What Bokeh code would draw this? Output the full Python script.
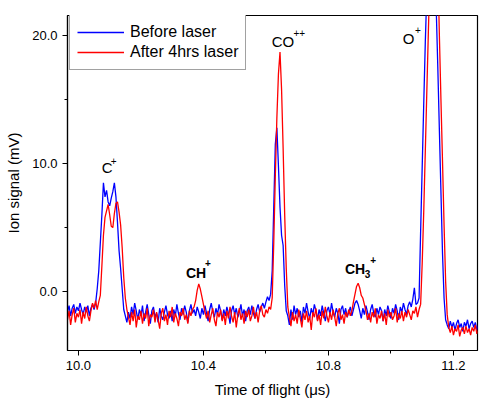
import numpy as np
from bokeh.plotting import figure
from bokeh.models import (FixedTicker, PrintfTickFormatter, Legend, LegendItem,
                          Range1d, ColumnDataSource)
from bokeh.core.properties import value
from bokeh.embed import file_html
from bokeh.resources import INLINE

# Time-of-flight sampling (microseconds)
t_start = 9.965
t_step = 0.005

# Ion signal (mV), one sample per time step
before_laser = [
    -1.6, -1.1, -1.9, -1.3, -1.0, -1.7, -1.2, -1.5, -0.9, -1.4,
    -1.8, -1.2, -1.6, -1.1, -1.9, -1.3, -1.0, -1.4, -0.9, 0.2,
    1.6, 3.8, 6.0, 8.5, 7.4, 7.9, 7.0, 6.7, 7.3, 7.8,
    8.5, 7.4, 5.4, 3.2, 1.8, 0.2, -1.4, -1.9, -2.4, -1.6,
    -2.1, -1.2, -1.8, -0.9, -1.5, -2.2, -1.4, -1.9, -1.1, -2.3,
    -1.6, -1.0, -1.8, -2.5, -1.5, -1.2, -2.0, -1.7, -2.4, -1.3,
    -1.9, -2.2, -1.6, -1.1, -1.8, -2.1, -1.5, -2.3, -1.4, -1.9,
    -1.0, -1.7, -2.2, -1.3, -1.8, -1.1, -1.6, -2.4, -1.5, -1.0,
    -1.7, -1.4, -1.9, -1.2, -1.6, -2.1, -1.3, -1.8, -1.1, -1.7,
    -2.3, -1.4, -0.9, -1.6, -2.0, -1.3, -1.8, -1.0, -1.5, -2.2,
    -1.4, -1.9, -1.2, -1.7, -2.5, -1.5, -1.1, -1.8, -1.3, -2.0,
    -1.6, -1.0, -1.9, -1.4, -2.3, -1.5, -1.2, -1.8, -1.1, -1.7,
    -2.1, -1.4, -1.0, -1.6, -1.2, -0.9, -1.3, -0.8, -0.4, -0.7,
    -0.2, 1.6, 6.6, 11.5, 12.8, 9.8, 6.6, 4.4, 3.6, 0.5,
    -1.5, -1.9, -2.6, -1.4, -2.2, -1.1, -1.8, -1.3, -2.0, -1.5,
    -2.4, -1.2, -1.7, -0.9, -1.6, -2.1, -1.3, -1.8, -1.0, -1.5,
    -2.2, -1.4, -1.9, -1.1, -1.7, -2.3, -1.5, -1.2, -1.8, -0.9,
    -1.6, -2.0, -1.3, -1.7, -2.5, -1.4, -1.1, -1.8, -1.3, -2.0,
    -1.6, -1.2, -1.9, -1.4, -0.9, -0.7, -1.0, -1.5, -2.1, -1.3,
    -1.8, -1.1, -1.6, -2.2, -1.4, -1.0, -1.7, -2.0, -1.3, -1.8,
    -1.2, -1.5, -2.3, -1.4, -1.9, -1.1, -1.6, -2.1, -1.3, -1.7,
    -1.0, -1.5, -2.2, -1.2, -1.6, -0.9, -1.4, -1.8, -1.1, -0.8,
    -1.2, -0.6, 0.3, -1.0, -0.9, -0.5, 4.7, 9.7, 14.7, 19.5,
    23.5, 27.5, 30.5, 31.5, 30.0, 26.5, 22.0, 17.5, 12.6, 7.8,
    3.0, -0.5, -2.2, -2.6, -2.9, -2.3, -2.8, -2.4, -3.0, -2.5,
    -2.2, -2.8, -2.5, -3.1, -2.4, -2.7, -2.2, -2.9, -2.5, -2.3,
    -2.8, -2.4, -3.0, -2.6,
]

after_laser = [
    -2.2, -1.5, -2.6, -1.8, -1.3, -2.4, -1.7, -2.0, -1.4, -2.5,
    -1.6, -2.1, -1.2, -1.9, -2.3, -1.5, -0.9, -1.3, -0.7, -1.4,
    -0.8, -0.3, 2.0, 4.4, 5.8, 6.3, 6.8, 6.0, 5.1, 5.0,
    6.1, 6.9, 7.0, 6.2, 5.2, 3.4, 1.1, -0.5, -1.4, -2.0,
    -2.6, -1.6, -2.3, -1.4, -2.8, -1.9, -2.2, -1.5, -2.5, -1.7,
    -2.1, -1.3, -2.7, -1.8, -2.0, -1.4, -2.4, -1.6, -2.2, -2.9,
    -1.7, -1.3, -2.3, -1.8, -2.6, -1.5, -2.0, -1.2, -2.4, -1.7,
    -2.1, -2.7, -1.6, -1.9, -1.3, -2.2, -1.8, -2.5, -1.5, -1.9,
    -1.4, -1.2, -0.7, 0.1, 0.6, 0.2, -0.4, -1.0, -1.6, -2.1,
    -1.5, -2.4, -1.8, -1.3, -2.2, -2.7, -1.6, -2.0, -1.4, -2.3,
    -1.7, -2.6, -1.5, -2.1, -1.2, -1.9, -2.4, -1.6, -2.8, -1.8,
    -1.3, -2.2, -1.7, -2.5, -1.5, -2.0, -1.4, -2.3, -1.9, -1.2,
    -2.1, -1.6, -2.4, -1.5, -1.1, -1.8, -2.0, -1.4, -1.7, -1.2,
    -1.4, -0.5, 3.8, 9.0, 13.6, 17.0, 18.7, 15.8, 11.2, 6.0,
    1.8, -1.2, -2.0, -2.7, -1.6, -2.3, -1.8, -2.5, -1.4, -2.1,
    -2.8, -1.7, -2.2, -1.5, -2.4, -1.9, -3.0, -1.6, -2.0, -1.3,
    -2.3, -1.8, -2.6, -1.5, -2.1, -1.2, -1.9, -2.4, -1.6, -2.2,
    -1.4, -2.0, -2.7, -1.7, -1.3, -2.2, -1.8, -2.5, -1.6, -2.0,
    -1.4, -1.9, -1.5, -0.8, -0.2, 0.4, 0.65, 0.3, -0.3, -0.5,
    -1.0, -1.5, -2.2, -1.7, -2.4, -1.6, -2.0, -1.3, -2.5, -1.8,
    -2.1, -1.5, -2.3, -1.7, -2.6, -1.4, -2.0, -1.6, -2.2, -1.9,
    -1.3, -2.4, -1.7, -2.1, -1.5, -2.3, -1.6, -2.0, -1.4, -1.8,
    -2.2, -1.5, -1.7, -1.2, -2.0, -1.4, -1.0, 2.2, 6.3, 11.0,
    15.8, 20.5, 25.0, 28.5, 30.5, 31.0, 29.5, 25.5, 20.0, 15.0,
    10.2, 5.2, 0.8, -1.8, -2.8, -3.2, -2.7, -3.4, -2.9, -3.1,
    -2.6, -3.5, -3.0, -2.8, -3.3, -2.7, -3.2, -2.9, -3.4, -2.8,
    -3.1, -2.6, -3.3, -3.0,
]

series_names = ["Before laser", "After 4hrs laser"]

# Axis ticks
x_ticks = [10.0, 10.4, 10.8, 11.2]
x_minor = [10.2, 10.6, 11.0]
y_ticks = [0.0, 10.0, 20.0]
y_minor = [5.0, 15.0]

# Peak assignments: main symbol, position (us, mV)
plain_names = ["C", "CO", "O"]
plain_x = [10.0745, 10.6185, 11.038]
plain_y = [9.69, 19.55, 19.74]
bold_names = ["CH", "CH"]
bold_x = [10.344, 10.853]
bold_y = [1.48, 1.77]
# charge superscripts
sup_names = ["+", "++", "+", "+", "+"]
sup_x = [10.103, 10.688, 11.077, 10.405, 10.934]
sup_y = [10.2, 20.23, 20.43, 2.23, 2.46]
sup_bold = [False, False, False, True, True]
# subscript on CH3
sub_names = ["3"]
sub_x = [10.916]
sub_y = [1.38]

FONT = "Liberation Sans"

time_before = t_start + t_step * np.arange(len(before_laser))
time_after = t_start + t_step * np.arange(len(after_laser))

p = figure(width=479, height=403, output_backend="svg", toolbar_location=None,
           x_range=Range1d(9.965, 11.277), y_range=Range1d(-4.6, 21.56),
           min_border_left=67, min_border_right=2, min_border_top=15,
           min_border_bottom=53)
p.background_fill_color = "white"
p.border_fill_color = "white"
p.outline_line_color = "black"
p.outline_line_width = 1.2
p.grid.visible = False

r_before = p.line(time_before, before_laser, line_color="#0000FF", line_width=1.3)
r_after = p.line(time_after, after_laser, line_color="#FF0000", line_width=1.3)

for ax in (p.xaxis[0], p.yaxis[0]):
    ax.axis_line_color = "black"
    ax.axis_line_width = 1.2
    ax.major_tick_line_color = "black"
    ax.minor_tick_line_color = "black"
    ax.major_tick_out = 5
    ax.major_tick_in = 0
    ax.minor_tick_out = 3
    ax.minor_tick_in = 0
    ax.major_label_text_font = FONT
    ax.major_label_text_font_size = "13px"
    ax.major_label_text_color = "black"
    ax.axis_label_text_font = FONT
    ax.axis_label_text_font_size = "15px"
    ax.axis_label_text_font_style = "normal"
    ax.axis_label_text_color = "black"
    ax.formatter = PrintfTickFormatter(format="%.1f")

p.xaxis.ticker = FixedTicker(ticks=x_ticks, minor_ticks=x_minor)
p.yaxis.ticker = FixedTicker(ticks=y_ticks, minor_ticks=y_minor)
p.xaxis.axis_label = "Time of flight (\u03bcs)"
p.yaxis.axis_label = "Ion signal (mV)"
p.xaxis.major_label_standoff = 5
p.xaxis.axis_label_standoff = 8
p.yaxis.major_label_standoff = 5
p.yaxis.axis_label_standoff = 7

legend = Legend(items=[LegendItem(label=series_names[0], renderers=[r_before]),
                       LegendItem(label=series_names[1], renderers=[r_after])],
                location=(2, 280), margin=0, padding=7, spacing=0,
                glyph_width=47, glyph_height=20, label_height=20,
                label_standoff=6, border_line_color="#444444",
                border_line_width=1, background_fill_color="white",
                background_fill_alpha=1.0, label_text_font=FONT,
                label_text_font_size="16px", label_text_color="black")
p.add_layout(legend)

plain_src = ColumnDataSource(dict(x=plain_x, y=plain_y, text=plain_names))
p.text(x="x", y="y", text="text", source=plain_src, text_font=value(FONT),
       text_font_size="15px", text_color="black", text_align="left",
       text_baseline="alphabetic")
bold_src = ColumnDataSource(dict(x=bold_x, y=bold_y, text=bold_names))
p.text(x="x", y="y", text="text", source=bold_src, text_font=value(FONT),
       text_font_size="14px", text_font_style="bold", text_color="black",
       text_align="left", text_baseline="alphabetic")
sup_src = ColumnDataSource(dict(x=sup_x, y=sup_y, text=sup_names,
                                style=["bold" if b else "normal" for b in sup_bold]))
p.text(x="x", y="y", text="text", source=sup_src, text_font=value(FONT),
       text_font_size="10px", text_font_style="style", text_color="black",
       text_align="left", text_baseline="alphabetic")
sub_src = ColumnDataSource(dict(x=sub_x, y=sub_y, text=sub_names))
p.text(x="x", y="y", text="text", source=sub_src, text_font=value(FONT),
       text_font_size="10px", text_font_style="bold", text_color="black",
       text_align="left", text_baseline="alphabetic")

open("out.html", "w").write(file_html(p, INLINE))
